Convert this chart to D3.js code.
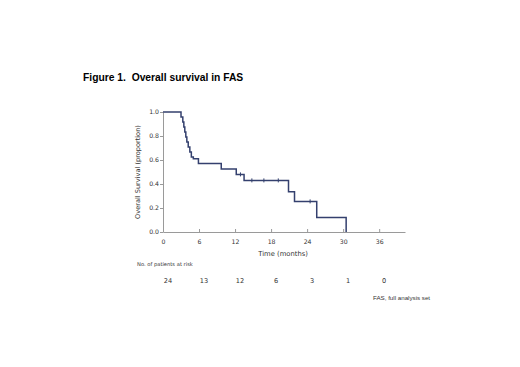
<!DOCTYPE html>
<html>
<head>
<meta charset="utf-8">
<script src="https://cdn.jsdelivr.net/npm/d3@7"></script>
<style>
  body { margin: 0; background: #fff; }
  svg text { font-family: "DejaVu Sans", sans-serif; fill: #333; }
  .title { font-family: "Liberation Sans", Arial, sans-serif; font-weight: bold; fill: #000; white-space: pre; }
  .axis path, .axis line { stroke: #9a9a9a; }
</style>
</head>
<body>
<svg id="chart" width="520" height="367"></svg>
<script>
// KM step data
const eventTimes = [3.0, 3.3, 3.47, 3.63, 3.8, 3.97, 4.2, 4.47, 4.72, 5.05, 5.9, 9.7, 12.2, 13.5, 20.9, 21.9, 25.6, 30.5]
const survival = [0.958, 0.917, 0.875, 0.833, 0.792, 0.75, 0.708, 0.667, 0.625, 0.61, 0.57, 0.525, 0.48, 0.43, 0.335, 0.255, 0.12, 0]
const censorTimes = [12.9, 14.8, 16.8, 19.2, 24.5]
const xTicks = [0, 6, 12, 18, 24, 30, 36]
const yTicks = [0, 0.2, 0.4, 0.6, 0.8, 1.0]
const atRisk = [24, 13, 12, 6, 3, 1, 0]

const svg = d3.select('#chart')
const margins = {left: 163, top: 112, right: 115, bottom: 135}
const width = 520 - margins.left - margins.right
const height = 367 - margins.top - margins.bottom

const x = d3.scaleLinear().domain([0, 40.3]).range([0, width])
const y = d3.scaleLinear().domain([0, 1]).range([height, 0])

svg.append('text')
  .attr('class', 'title')
  .attr('x', 83).attr('y', 81)
  .attr('font-size', 10.3)
  .text('Figure 1.  Overall survival in FAS')

const g = svg.append('g').attr('transform', `translate(${margins.left}, ${margins.top})`)

g.append('g')
  .attr('class', 'axis axis--x')
  .attr('transform', `translate(0, ${height})`)
  .call(d3.axisBottom(x).tickValues(xTicks).tickSize(3).tickSizeOuter(0).tickFormat(d3.format('d')))
  .call(s => s.selectAll('.tick line').attr('y2', -3))
  .call(s => s.selectAll('text').attr('font-size', 6.2).attr('fill', '#333').attr('dy', '0.9em'))

g.append('g')
  .attr('class', 'axis axis--y')
  .call(d3.axisLeft(y).tickValues(yTicks).tickSize(3).tickSizeOuter(0).tickFormat(d3.format('.1f')))
  .call(s => s.selectAll('text').attr('font-size', 6.2).attr('fill', '#333').attr('x', -4))

g.append('text')
  .attr('transform', `translate(-23, ${height / 2}) rotate(-90)`)
  .attr('text-anchor', 'middle')
  .attr('font-size', 6.6)
  .text('Overall Survival (proportion)')

g.append('text')
  .attr('x', x(20)).attr('y', height + 24)
  .attr('text-anchor', 'middle')
  .attr('font-size', 6.8)
  .text('Time (months)')

// survival curve
const pts = [[0, 1]]
eventTimes.forEach((t, i) => pts.push([t, survival[i]]))
const line = d3.line().x(d => x(d[0])).y(d => y(d[1])).curve(d3.curveStepAfter)
g.append('path')
  .datum(pts)
  .attr('fill', 'none')
  .attr('stroke', '#34406e')
  .attr('stroke-width', 1.5)
  .attr('d', line)

function survAt(t) {
  let s = 1
  eventTimes.forEach((e, i) => { if (e <= t) s = survival[i] })
  return s
}
g.selectAll('.censor')
  .data(censorTimes)
  .enter()
  .append('line')
  .attr('class', 'censor')
  .attr('x1', d => x(d)).attr('x2', d => x(d))
  .attr('y1', d => y(survAt(d)) - 2).attr('y2', d => y(survAt(d)) + 2)
  .attr('stroke', '#34406e')
  .attr('stroke-width', 1)

// number at risk table
g.append('text')
  .attr('x', -26).attr('y', height + 34)
  .attr('font-size', 5.2)
  .text('No. of patients at risk')

g.selectAll('.risk')
  .data(atRisk)
  .enter()
  .append('text')
  .attr('class', 'risk')
  .attr('x', (d, i) => x(xTicks[i]) + 5)
  .attr('y', height + 51)
  .attr('text-anchor', 'middle')
  .attr('font-size', 6.6)
  .text(d => d)

svg.append('text')
  .attr('x', 373).attr('y', 300)
  .attr('font-size', 6.2)
  .style('font-family', '"Liberation Sans", Arial, sans-serif')
  .text('FAS, full analysis set')
</script>
</body>
</html>
